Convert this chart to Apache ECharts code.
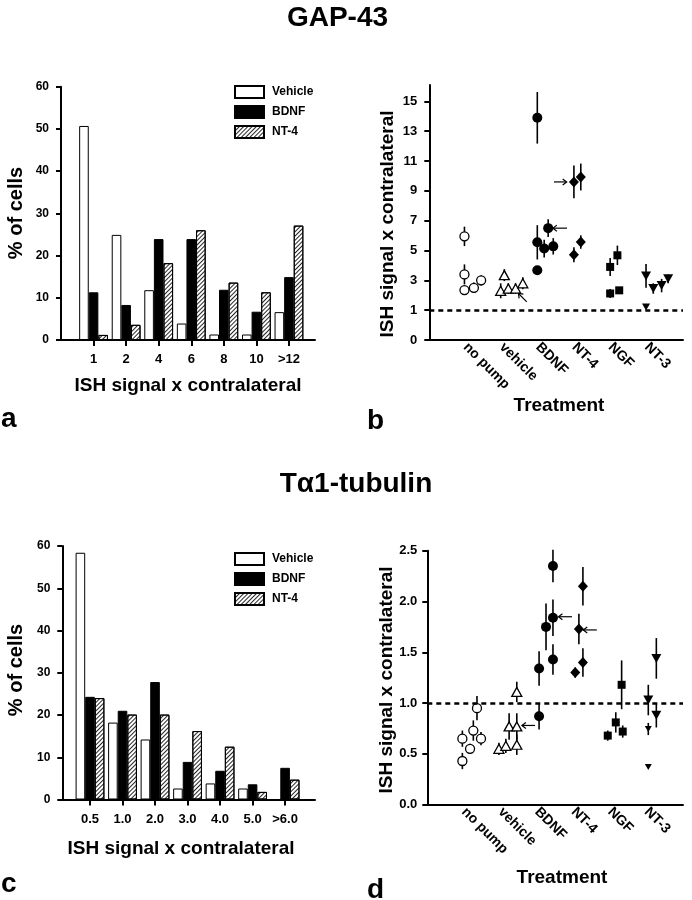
<!DOCTYPE html>
<html><head><meta charset="utf-8">
<script src="https://cdn.jsdelivr.net/npm/echarts@6/dist/echarts.min.js"></script>
<style>html,body{margin:0;padding:0;background:#fff}#c{width:692px;height:900px}</style>
</head><body><div id="c"></div>
<script>
// ---------- Panel a : GAP-43 distribution ----------
const binsA = ['1', '2', '4', '6', '8', '10', '>12'];
const vehicleA = [50.7, 24.9, 11.8, 3.9, 1.3, 1.3, 6.6];
const bdnfA = [11.3, 8.3, 23.9, 23.9, 11.9, 6.7, 14.9];
const nt4A = [1.2, 3.6, 18.2, 26.0, 13.6, 11.3, 27.1];
// ---------- Panel c : Talpha1-tubulin distribution ----------
const binsC = ['0.5', '1.0', '2.0', '3.0', '4.0', '5.0', '>6.0'];
const vehicleC = [58.4, 18.2, 14.2, 2.6, 3.8, 2.6, 0];
const bdnfC = [24.3, 21.0, 27.8, 8.9, 6.8, 3.6, 7.5];
const nt4C = [24.0, 20.1, 20.1, 16.2, 12.5, 1.8, 4.7];
// ---------- Treatments (panels b, d) ----------
const treatments = ['no pump', 'vehicle', 'BDNF', 'NT-4', 'NGF', 'NT-3'];
// rows: [treatment position (with jitter), mean, s.e.m.]
const noPumpB = [[0.97, 5.95, 0.65], [0.97, 3.4, 0.67], [0.97, 2.35, 0.3], [1.23, 2.5, 0.35], [1.43, 3.0, 0.35]];
const vehicleB = [[1.97, 2.3, 0.5], [2.07, 3.35, 0.4], [2.18, 2.45, 0.35], [2.38, 2.45, 0.35], [2.58, 2.8, 0.4]];
const bdnfB = [[2.98, 13.9, 1.73], [2.98, 5.55, 1.15], [2.98, 3.68, 0], [3.17, 5.13, 0.6], [3.28, 6.5, 0.6], [3.42, 5.28, 0.55]];
const nt4B = [[3.99, 9.6, 1.1], [4.18, 9.93, 0.9], [3.99, 4.72, 0.5], [4.18, 5.57, 0.45]];
const ngfB = [[4.99, 3.9, 0.6], [5.19, 4.68, 0.65], [4.99, 2.12, 0.3], [5.24, 2.33, 0.2]];
const nt3B = [[5.98, 3.3, 0.8], [6.18, 2.45, 0.35], [6.41, 2.65, 0.45], [6.59, 3.1, 0.3]];
const nt3SmallB = [[5.98, 1.22, 0]];
const noPumpD = [[0.96, 0.65, 0.08], [0.96, 0.43, 0.08], [1.17, 0.55, 0.05], [1.26, 0.73, 0.1], [1.36, 0.95, 0.12], [1.47, 0.65, 0.065]];
const vehicleD = [[1.96, 0.55, 0.06], [2.15, 0.58, 0.07], [2.24, 0.77, 0.13], [2.45, 0.77, 0.13], [2.45, 0.59, 0.1], [2.45, 1.11, 0.1]];
const bdnfD = [[3.06, 1.34, 0.17], [3.06, 0.87, 0.13], [3.25, 1.75, 0.23], [3.44, 2.35, 0.16], [3.44, 1.84, 0.18], [3.44, 1.43, 0.15]];
const nt4D = [[4.05, 1.30, 0.05], [4.26, 2.15, 0.19], [4.15, 1.73, 0.15], [4.26, 1.40, 0.14]];
const ngfD = [[4.94, 0.68, 0.05], [5.16, 0.81, 0.1], [5.32, 1.18, 0.24], [5.35, 0.72, 0.06]];
const nt3D = [[6.05, 1.03, 0.15], [6.27, 1.44, 0.2], [6.27, 0.88, 0.12]];
const nt3SmallD = [[6.05, 0.745, 0.06], [6.05, 0.37, 0]];
// arrows: [tailX, tailY, tipX, tipY]
const arrowsB = [[3.44, 9.6, 3.79, 9.6], [3.80, 6.5, 3.41, 6.5], [2.69, 1.56, 2.46, 2.12]];
const arrowsD = [[3.96, 1.85, 3.59, 1.85], [4.64, 1.72, 4.27, 1.72], [2.95, 0.78, 2.59, 0.78]];
const ticksB = [-1, 1, 3, 5, 7, 9, 11, 13, 15];

const FF = '"Liberation Sans", Arial, Helvetica, sans-serif';
const chart = echarts.init(document.getElementById('c'), null, {renderer: 'canvas'});

const hatch = {symbol: 'rect', symbolSize: 1, color: 'rgba(0,0,0,0.85)', dashArrayX: [1, 0], dashArrayY: [1, 1.6], rotation: -Math.PI / 4};

function bars(name, vals, xi, yi, kind) {
  const st = {borderColor: '#000', borderWidth: 1};
  if (kind === 'v') st.color = '#fff';
  else if (kind === 'b') st.color = '#000';
  else { st.color = '#fff'; st.decal = hatch; }
  return {type: 'bar', name: name, xAxisIndex: xi, yAxisIndex: yi, barWidth: 9.6, barGap: '0%',
    data: vals.map((v, i) => [i + 1, v]), itemStyle: st, silent: true};
}
function errs(data, xi, yi) {
  return {type: 'custom', xAxisIndex: xi, yAxisIndex: yi, data: data, silent: true, z: 2,
    encode: {x: 0, y: 1},
    renderItem: function (params, api) {
      const x = api.value(0), y = api.value(1), e = api.value(2);
      if (!e) return null;
      const p1 = api.coord([x, y - e]), p2 = api.coord([x, y + e]);
      return {type: 'line', shape: {x1: p1[0], y1: p1[1], x2: p2[0], y2: p2[1]}, style: {stroke: '#000', lineWidth: 1.6}};
    }};
}
function pts(data, xi, yi, symbol, size, open, rot) {
  return {type: 'scatter', xAxisIndex: xi, yAxisIndex: yi, data: data, symbol: symbol, symbolSize: size,
    symbolRotate: rot || 0, silent: true, z: 3,
    itemStyle: {color: open ? '#fff' : '#000', borderColor: '#000', borderWidth: open ? 1.3 : 0, opacity: 1}};
}
function arrows(data, xi, yi) {
  return {type: 'custom', xAxisIndex: xi, yAxisIndex: yi, data: data, silent: true, z: 4,
    encode: {x: [0, 2], y: [1, 3]},
    renderItem: function (params, api) {
      const a = api.coord([api.value(0), api.value(1)]);
      const b = api.coord([api.value(2), api.value(3)]);
      const ang = Math.atan2(b[1] - a[1], b[0] - a[0]);
      const h = 5;
      const l1 = [b[0] - h * Math.cos(ang - 0.65), b[1] - h * Math.sin(ang - 0.65)];
      const l2 = [b[0] - h * Math.cos(ang + 0.65), b[1] - h * Math.sin(ang + 0.65)];
      return {type: 'group', children: [
        {type: 'line', shape: {x1: a[0], y1: a[1], x2: b[0], y2: b[1]}, style: {stroke: '#000', lineWidth: 1.2}},
        {type: 'polyline', shape: {points: [l1, b, l2]}, style: {stroke: '#000', lineWidth: 1.2, fill: null}}
      ]};
    }};
}
function refLine(xi, yi) {
  return {type: 'line', xAxisIndex: xi, yAxisIndex: yi, data: [], silent: true,
    markLine: {silent: true, symbol: 'none', label: {show: false}, animation: false,
      lineStyle: {color: '#000', width: 2.5, type: [5, 4]}, data: [{yAxis: 1}]}};
}

const axisLine = {show: true, onZero: false, lineStyle: {color: '#000', width: 2}};
const tickStyle = {color: '#000', width: 2};
function lbl(size, extra) {
  return Object.assign({color: '#000', fontFamily: FF, fontWeight: 'bold', fontSize: size}, extra || {});
}

const cats = [1, 2, 3, 4, 5, 6, 7];
const tcats = [1, 2, 3, 4, 5, 6];

const option = {
  animation: false,
  backgroundColor: '#fff',
  grid: [
    {left: 61, top: 86.7, width: 254, height: 253.3},
    {left: 429.3, top: 85, width: 253.7, height: 255},
    {left: 62.3, top: 546, width: 252.7, height: 253.5},
    {left: 427.3, top: 550.7, width: 255.7, height: 254}
  ],
  xAxis: [
    {gridIndex: 0, type: 'value', min: 0, max: 7.8, axisLine: axisLine, splitLine: {show: false},
      axisTick: {show: true, customValues: cats, length: 6, lineStyle: tickStyle},
      axisLabel: lbl(13, {customValues: cats, margin: 13, formatter: v => binsA[Math.round(v) - 1]})},
    {gridIndex: 1, type: 'value', min: 0, max: 7, axisLine: axisLine, splitLine: {show: false},
      axisTick: {show: false},
      axisLabel: lbl(14, {customValues: tcats, margin: 5, rotate: -45, formatter: v => treatments[Math.round(v) - 1]})},
    {gridIndex: 2, type: 'value', min: 0.148, max: 7.92, axisLine: axisLine, splitLine: {show: false},
      axisTick: {show: true, customValues: cats, length: 6, lineStyle: tickStyle},
      axisLabel: lbl(13, {customValues: cats, margin: 13, formatter: v => binsC[Math.round(v) - 1]})},
    {gridIndex: 3, type: 'value', min: 0, max: 7, axisLine: axisLine, splitLine: {show: false},
      axisTick: {show: false},
      axisLabel: lbl(14, {customValues: tcats, margin: 5, rotate: -45, formatter: v => treatments[Math.round(v) - 1]})}
  ],
  yAxis: [
    {gridIndex: 0, type: 'value', min: 0, max: 60, interval: 10, axisLine: axisLine, splitLine: {show: false},
      axisTick: {show: true, length: 5, lineStyle: tickStyle}, axisLabel: lbl(12, {margin: 12})},
    {gridIndex: 1, type: 'value', min: -1, max: 16.1, axisLine: axisLine, splitLine: {show: false},
      axisTick: {show: true, length: 5, lineStyle: tickStyle, customValues: ticksB},
      axisLabel: lbl(13, {margin: 12, customValues: ticksB, formatter: v => (v < 0 ? '0' : String(v))})},
    {gridIndex: 2, type: 'value', min: 0, max: 60, interval: 10, axisLine: axisLine, splitLine: {show: false},
      axisTick: {show: true, length: 5, lineStyle: tickStyle}, axisLabel: lbl(12, {margin: 12})},
    {gridIndex: 3, type: 'value', min: 0, max: 2.5, interval: 0.5, axisLine: axisLine, splitLine: {show: false},
      axisTick: {show: true, length: 5, lineStyle: tickStyle}, axisLabel: lbl(13, {margin: 10, formatter: v => v.toFixed(1)})}
  ],
  legend: [
    {left: 229, top: 80, orient: 'vertical', itemWidth: 29, itemHeight: 12, itemGap: 6, selectedMode: false,
      icon: 'rect', data: ['Vehicle', 'BDNF', 'NT-4'], textStyle: lbl(12, {padding: [0, 0, 0, 3], lineHeight: 12})},
    {left: 229, top: 547, orient: 'vertical', itemWidth: 29, itemHeight: 12, itemGap: 6, selectedMode: false,
      icon: 'rect', data: ['Vehicle', 'BDNF', 'NT-4'], textStyle: lbl(12, {padding: [0, 0, 0, 3], lineHeight: 12})}
  ],
  series: [
    bars('Vehicle', vehicleA, 0, 0, 'v'), bars('BDNF', bdnfA, 0, 0, 'b'), bars('NT-4', nt4A, 0, 0, 'n'),
    bars('Vehicle', vehicleC, 2, 2, 'v'), bars('BDNF', bdnfC, 2, 2, 'b'), bars('NT-4', nt4C, 2, 2, 'n'),
    refLine(1, 1), refLine(3, 3),
    errs(noPumpB, 1, 1), errs(vehicleB, 1, 1), errs(bdnfB, 1, 1), errs(nt4B, 1, 1), errs(ngfB, 1, 1), errs(nt3B, 1, 1),
    errs(noPumpD, 3, 3), errs(vehicleD, 3, 3), errs(bdnfD, 3, 3), errs(nt4D, 3, 3), errs(ngfD, 3, 3), errs(nt3D, 3, 3), errs(nt3SmallD, 3, 3),
    pts(noPumpB, 1, 1, 'circle', 9, true), pts(vehicleB, 1, 1, 'triangle', [10, 9], true),
    pts(bdnfB, 1, 1, 'circle', 10, false), pts(nt4B, 1, 1, 'diamond', [10, 11], false),
    pts(ngfB, 1, 1, 'rect', 8, false), pts(nt3B, 1, 1, 'triangle', [10, 9], false, 180),
    pts(nt3SmallB, 1, 1, 'triangle', [8, 7], false, 180),
    pts(noPumpD, 3, 3, 'circle', 9, true), pts(vehicleD, 3, 3, 'triangle', [10, 9], true),
    pts(bdnfD, 3, 3, 'circle', 10, false), pts(nt4D, 3, 3, 'diamond', [10, 11], false),
    pts(ngfD, 3, 3, 'rect', 8, false), pts(nt3D, 3, 3, 'triangle', [10, 9], false, 180),
    pts(nt3SmallD, 3, 3, 'triangle', [7, 6], false, 180),
    arrows(arrowsB, 1, 1), arrows(arrowsD, 3, 3)
  ],
  graphic: [
    {type: 'text', x: 337.5, y: 18, style: {text: 'GAP-43', font: 'bold 28px ' + FF, fill: '#000', textAlign: 'center', textVerticalAlign: 'middle'}},
    {type: 'text', x: 356, y: 484, style: {text: 'T\u03b11-tubulin', font: 'bold 28px ' + FF, fill: '#000', textAlign: 'center', textVerticalAlign: 'middle'}},
    {type: 'text', x: 188, y: 386, style: {text: 'ISH signal x contralateral', font: 'bold 19px ' + FF, fill: '#000', textAlign: 'center', textVerticalAlign: 'middle'}},
    {type: 'text', x: 181, y: 849, style: {text: 'ISH signal x contralateral', font: 'bold 19px ' + FF, fill: '#000', textAlign: 'center', textVerticalAlign: 'middle'}},
    {type: 'text', x: 559, y: 406, style: {text: 'Treatment', font: 'bold 19px ' + FF, fill: '#000', textAlign: 'center', textVerticalAlign: 'middle'}},
    {type: 'text', x: 562, y: 877.5, style: {text: 'Treatment', font: 'bold 19px ' + FF, fill: '#000', textAlign: 'center', textVerticalAlign: 'middle'}},
    {type: 'text', x: 16.5, y: 213, rotation: Math.PI / 2, style: {text: '% of cells', font: 'bold 20px ' + FF, fill: '#000', textAlign: 'center', textVerticalAlign: 'middle'}},
    {type: 'text', x: 16.5, y: 670, rotation: Math.PI / 2, style: {text: '% of cells', font: 'bold 20px ' + FF, fill: '#000', textAlign: 'center', textVerticalAlign: 'middle'}},
    {type: 'text', x: 387.5, y: 224, rotation: Math.PI / 2, style: {text: 'ISH signal x contralateral', font: 'bold 19px ' + FF, fill: '#000', textAlign: 'center', textVerticalAlign: 'middle'}},
    {type: 'text', x: 386.5, y: 680, rotation: Math.PI / 2, style: {text: 'ISH signal x contralateral', font: 'bold 19px ' + FF, fill: '#000', textAlign: 'center', textVerticalAlign: 'middle'}},
    {type: 'text', x: 1, y: 419, style: {text: 'a', font: 'bold 28px ' + FF, fill: '#000', textAlign: 'left', textVerticalAlign: 'middle'}},
    {type: 'text', x: 367, y: 421, style: {text: 'b', font: 'bold 28px ' + FF, fill: '#000', textAlign: 'left', textVerticalAlign: 'middle'}},
    {type: 'text', x: 1, y: 884, style: {text: 'c', font: 'bold 28px ' + FF, fill: '#000', textAlign: 'left', textVerticalAlign: 'middle'}},
    {type: 'text', x: 367, y: 890, style: {text: 'd', font: 'bold 28px ' + FF, fill: '#000', textAlign: 'left', textVerticalAlign: 'middle'}}
  ]
};
chart.setOption(option);
</script></body></html>
